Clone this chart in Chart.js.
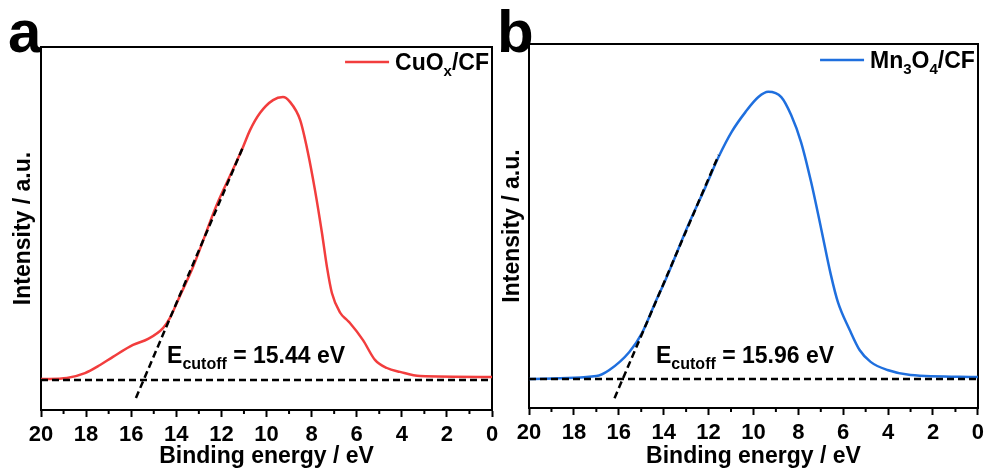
<!DOCTYPE html>
<html>
<head>
<meta charset="utf-8">
<script src="https://cdn.jsdelivr.net/npm/chart.js@4.4.1/dist/chart.umd.min.js"></script>
<style>
  html, body { margin: 0; padding: 0; background: #fff; }
  body { width: 989px; height: 473px; position: relative; overflow: hidden; }
  .panel { position: absolute; top: 0; height: 473px; }
  #panelA { left: 0; width: 505px; }
  #panelB { left: 489px; width: 500px; }
</style>
</head>
<body>
<div class="panel" id="panelA"><canvas id="chartA"></canvas></div>
<div class="panel" id="panelB"><canvas id="chartB"></canvas></div>
<script>
// 数据
const cuoxEnergy = [20, 18.85, 18.05, 17.38, 16.81, 15.92, 15.25, 14.59, 14.28, 13.92, 13.26, 12.2, 11.53, 11.04,
    10.73, 10.29, 9.71, 9.27, 8.96, 8.51, 8.16, 7.85, 7.54, 7.32, 7.1, 6.74, 6.43, 6.3, 5.72, 5.19, 4.66, 4.08, 3.19, 0];
const cuoxIntensity = [0.003, 0.007, 0.023, 0.05, 0.077, 0.117, 0.137, 0.173, 0.207, 0.267, 0.377, 0.585, 0.695, 0.777,
    0.833, 0.89, 0.933, 0.943, 0.927, 0.867, 0.757, 0.633, 0.49, 0.377, 0.29, 0.225, 0.2, 0.19, 0.133, 0.067, 0.04, 0.027, 0.013, 0.01];

const mnEnergy = [20, 17.0, 16.42, 15.53, 14.96, 14.34, 13.9, 12.88, 12.12, 11.55, 10.97, 10.35, 9.78, 9.34,
    8.76, 8.32, 7.88, 7.43, 6.99, 6.55, 6.24, 5.71, 5.27, 4.78, 4.03, 3.0, 0];
const mnIntensity = [0, 0.01, 0.031, 0.093, 0.159, 0.27, 0.345, 0.535, 0.665, 0.766, 0.852, 0.921, 0.972, 0.99,
    0.972, 0.91, 0.817, 0.679, 0.521, 0.359, 0.266, 0.169, 0.1, 0.059, 0.031, 0.014, 0.007];

// 线性拟合切线
const cuoxFitEnergy = [15.79, 11.04];
const cuoxFitIntensity = [-0.06, 0.777];
const mnFitEnergy = [16.19, 11.55];
const mnFitIntensity = [-0.066, 0.772];

// 基线
const baselineEnergy = [20, 0];
const baselineIntensity = [0, 0];

const minorTicks = [19, 17, 15, 13, 11, 9, 7, 5, 3, 1];

const FONT = "'Liberation Sans', Arial, sans-serif";

function toPoints(xs, ys) {
    return xs.map((x, i) => ({ x: x, y: ys[i] }));
}

// 带下标文本
function drawParts(ctx, parts, x, y, size, subSize, align) {
    ctx.save();
    ctx.fillStyle = '#000';
    ctx.textBaseline = 'alphabetic';
    ctx.textAlign = 'left';
    let total = 0;
    parts.forEach(p => {
        ctx.font = `bold ${p.sub ? subSize : size}px ${FONT}`;
        total += ctx.measureText(p.t).width;
    });
    let cx = align === 'right' ? x - total : x;
    parts.forEach(p => {
        ctx.font = `bold ${p.sub ? subSize : size}px ${FONT}`;
        ctx.fillText(p.t, cx, p.sub ? y + 6 : y);
        cx += ctx.measureText(p.t).width;
    });
    ctx.restore();
    return total;
}

const decorPlugin = {
    id: 'decor',
    afterDraw(chart, args, opts) {
        const ctx = chart.ctx;
        const area = chart.chartArea;
        const xs = chart.scales.x;

        // 次刻度
        ctx.save();
        ctx.strokeStyle = '#000';
        ctx.lineWidth = 2;
        minorTicks.forEach(v => {
            const px = xs.getPixelForValue(v);
            ctx.beginPath();
            ctx.moveTo(px, area.bottom);
            ctx.lineTo(px, area.bottom + 4);
            ctx.stroke();
        });
        ctx.restore();

        // 图例
        const legendY = area.top + opts.legendDy;
        const w = drawParts(ctx, opts.legend, area.right - 3, legendY, 23, 15, 'right');
        const lx = area.right - 3 - w - 6;
        ctx.save();
        ctx.strokeStyle = opts.color;
        ctx.lineWidth = 2.5;
        ctx.beginPath();
        ctx.moveTo(lx - 44, legendY - 8);
        ctx.lineTo(lx, legendY - 8);
        ctx.stroke();
        ctx.restore();

        // E_cutoff 标注
        drawParts(ctx, opts.note, xs.getPixelForValue(opts.noteX), chart.scales.y.getPixelForValue(opts.noteY), 23, 16, 'left');

        // 面板字母
        ctx.save();
        ctx.fillStyle = '#000';
        ctx.font = `bold 60px ${FONT}`;
        ctx.textBaseline = 'alphabetic';
        ctx.fillText(opts.letter, 8, opts.letterY);
        ctx.restore();
    }
};

function makeChart(canvasId, cfg) {
    const ctx = document.getElementById(canvasId).getContext('2d');
    const hidden = {
        ticks: { display: false },
        grid: { drawOnChartArea: false, drawTicks: false },
        border: { display: true, width: 2, color: '#000' },
    };
    return new Chart(ctx, {
        type: 'line',
        data: {
            datasets: [
                {
                    data: toPoints(cfg.fitX, cfg.fitY),
                    borderColor: '#000',
                    borderWidth: 2.5,
                    borderDash: [7, 4],
                    pointRadius: 0,
                },
                {
                    data: toPoints(baselineEnergy, baselineIntensity),
                    borderColor: '#000',
                    borderWidth: 2.5,
                    borderDash: [7, 4],
                    pointRadius: 0,
                },
                {
                    data: toPoints(cfg.x, cfg.y),
                    borderColor: cfg.color,
                    borderWidth: 2.5,
                    pointRadius: 0,
                    cubicInterpolationMode: 'monotone',
                },
            ],
        },
        options: {
            responsive: true,
            maintainAspectRatio: false,
            animation: false,
            layout: { padding: { left: 0, top: cfg.top, right: cfg.padRight, bottom: 3 } },
            plugins: {
                legend: { display: false },
                tooltip: { enabled: false },
                decor: cfg.decor,
            },
            scales: {
                x: {
                    type: 'linear',
                    position: 'bottom',
                    min: 0,
                    max: 20,
                    reverse: true,
                    ticks: {
                        stepSize: 2,
                        color: '#000',
                        padding: 5,
                        font: { family: FONT, size: 22, weight: 'bold' },
                    },
                    grid: { drawOnChartArea: false, tickLength: 7, tickWidth: 2, color: '#000' },
                    border: { width: 2, color: '#000' },
                    title: {
                        display: true,
                        text: 'Binding energy / eV',
                        color: '#000',
                        padding: 0,
                        font: { family: FONT, size: 23, weight: 'bold' },
                    },
                    afterFit: (s) => { s.height = cfg.xHeight; },
                },
                x2: {
                    type: 'linear',
                    position: 'top',
                    min: 0,
                    max: 20,
                    ...hidden,
                    afterFit: (s) => { s.height = 0; },
                },
                y: {
                    type: 'linear',
                    position: 'left',
                    min: -0.1,
                    max: cfg.yMax,
                    ...hidden,
                    title: {
                        display: true,
                        text: 'Intensity / a.u.',
                        color: '#000',
                        padding: { top: 10, bottom: 0 },
                        font: { family: FONT, size: 23, weight: 'bold' },
                    },
                    afterFit: (s) => { s.width = cfg.yWidth; },
                },
                y2: {
                    type: 'linear',
                    position: 'right',
                    min: -0.1,
                    max: cfg.yMax,
                    ...hidden,
                    afterFit: (s) => { s.width = 0; },
                },
            },
        },
        plugins: [decorPlugin],
    });
}

makeChart('chartA', {
    x: cuoxEnergy, y: cuoxIntensity, fitX: cuoxFitEnergy, fitY: cuoxFitIntensity,
    color: '#f23d3d', yMax: 1.11, top: 47, padRight: 13, yWidth: 41, xHeight: 60,
    decor: {
        color: '#f23d3d', letter: 'a', letterY: 52, legendDy: 23,
        legend: [{ t: 'CuO' }, { t: 'x', sub: true }, { t: '/CF' }],
        note: [{ t: 'E' }, { t: 'cutoff', sub: true }, { t: ' = 15.44 eV' }],
        noteX: 14.41, noteY: 0.057,
    },
});

makeChart('chartB', {
    x: mnEnergy, y: mnIntensity, fitX: mnFitEnergy, fitY: mnFitIntensity,
    color: '#1f6fde', yMax: 1.155, top: 44, padRight: 8, yWidth: 40, xHeight: 62,
    decor: {
        color: '#1f6fde', letter: 'b', letterY: 52, legendDy: 24,
        legend: [{ t: 'Mn' }, { t: '3', sub: true }, { t: 'O' }, { t: '4', sub: true }, { t: '/CF' }],
        note: [{ t: 'E' }, { t: 'cutoff', sub: true }, { t: ' = 15.96 eV' }],
        noteX: 14.34, noteY: 0.055,
    },
});
</script>
</body>
</html>
